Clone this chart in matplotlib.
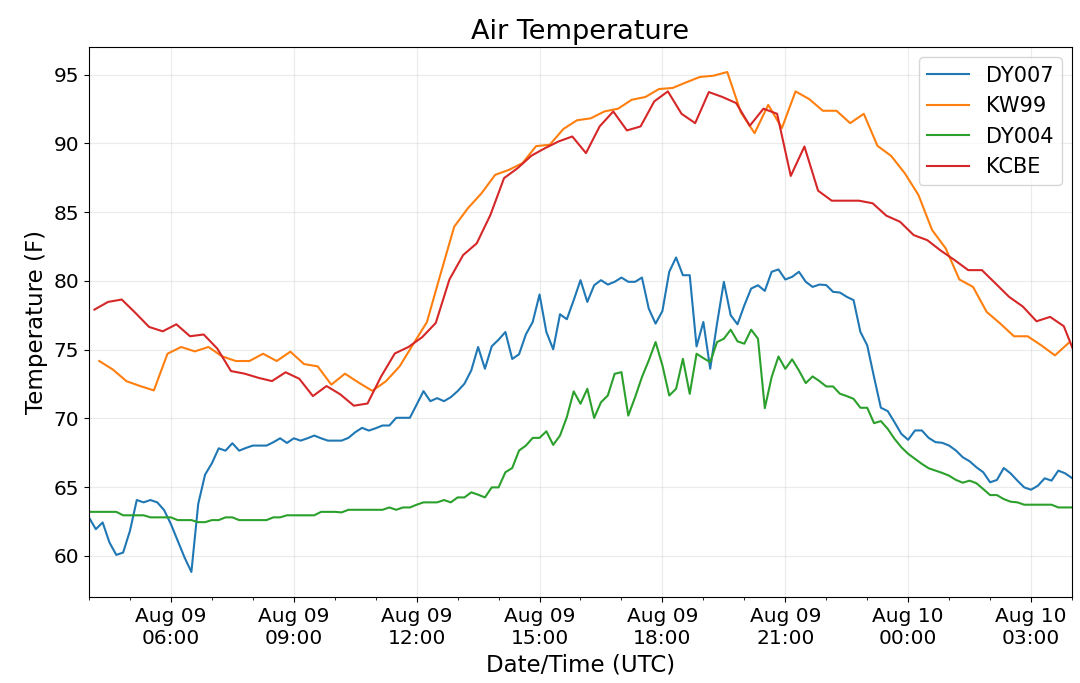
import pandas as pd
import matplotlib
matplotlib.use("Agg")
import matplotlib.pyplot as plt
import matplotlib.dates as mdates

# ===== data =====
# DY stations: 10 min obs, airports: 20 min obs
dy_times = pd.date_range("2019-08-09 04:00", "2019-08-10 04:00", freq="10min")
kw99_times = pd.date_range("2019-08-09 04:15", periods=72, freq="20min")
kcbe_times = pd.date_range("2019-08-09 04:08", periods=73, freq="20min")

dy007 = [
    62.79, 61.94, 62.43, 60.97, 60.07, 60.24, 61.82, 64.06, 63.89, 64.06,
    63.89, 63.33, 62.31, 61.09, 59.88, 58.83, 63.77, 65.90, 66.73, 67.82,
    67.65, 68.19, 67.65, 67.85, 68.02, 68.02, 68.02, 68.26, 68.55, 68.21,
    68.55, 68.38, 68.55, 68.75, 68.55, 68.38, 68.38,
    68.38, 68.58, 68.99, 69.31, 69.11, 69.28, 69.48, 69.48, 70.04, 70.04,
    70.04, 71.00, 71.98, 71.25, 71.47, 71.25, 71.54, 71.98, 72.52, 73.49,
    75.19, 73.61, 75.24, 75.72, 76.28, 74.32, 74.66, 76.11, 77.01, 79.01,
    76.28, 75.02, 77.57, 77.21, 78.59, 80.05,
    78.47, 79.68, 80.05, 79.73, 79.93, 80.24, 79.93, 79.93, 80.24, 77.98,
    76.89, 77.81, 80.66, 81.70, 80.41, 80.41, 75.23, 77.01, 73.61, 76.89,
    79.93, 77.50, 76.84, 78.22, 79.44, 79.68, 79.27, 80.66, 80.83, 80.10,
    80.29, 80.66, 79.93, 79.56, 79.73,
    79.69, 79.20, 79.15, 78.84, 78.60, 76.29, 75.31, 73.00, 70.77, 70.53,
    69.72, 68.87, 68.44, 69.12, 69.12, 68.58, 68.27, 68.22, 68.02, 67.66,
    67.17, 66.88, 66.44, 66.08, 65.35, 65.52, 66.39, 66.00, 65.47, 64.98,
    64.81, 65.10, 65.64, 65.47, 66.20, 66.00, 65.66,
]

dy004 = [
    63.2, 63.2, 63.2, 63.2, 63.2, 62.95, 62.95, 62.95, 62.95, 62.8,
    62.8, 62.8, 62.8, 62.6, 62.6, 62.6, 62.45, 62.45, 62.6, 62.6,
    62.8, 62.8, 62.6, 62.6, 62.6, 62.6, 62.6, 62.8, 62.8, 62.95,
    62.95, 62.95, 62.95, 62.95, 63.2, 63.2, 63.2,
    63.16, 63.35, 63.35, 63.35, 63.35, 63.35, 63.35, 63.52, 63.35, 63.52,
    63.52, 63.72, 63.89, 63.89, 63.89, 64.06, 63.89, 64.25, 64.25, 64.62,
    64.45, 64.25, 64.98, 64.98, 66.08, 66.39, 67.66, 68.02, 68.58, 68.58,
    69.06, 68.07, 68.75, 70.09, 71.96, 71.06,
    72.15, 70.03, 71.17, 71.66, 73.24, 73.36, 70.20, 71.54, 73.00, 74.21,
    75.55, 73.85, 71.66, 72.15, 74.33, 71.78, 74.70, 74.38, 74.09, 75.55,
    75.79, 76.45, 75.60, 75.43, 76.45, 75.79, 70.74, 73.00, 74.50, 73.60,
    74.29, 73.48, 72.56, 73.05, 72.71,
    72.32, 72.32, 71.79, 71.62, 71.42, 70.77, 70.77, 69.65, 69.80, 69.24,
    68.51, 67.90, 67.42, 67.05, 66.69, 66.37, 66.20, 66.03, 65.83, 65.52,
    65.32, 65.47, 65.28, 64.86, 64.42, 64.42, 64.13, 63.94, 63.89, 63.72,
    63.72, 63.72, 63.72, 63.72, 63.52, 63.52, 63.52,
]

kw99 = [
    74.17, 73.55, 72.70, 72.35, 72.03, 74.70, 75.19, 74.87, 75.19, 74.51,
    74.17, 74.17, 74.70, 74.17, 74.85, 73.95, 73.78, 72.45, 73.25, 72.60,
    72.00, 72.70, 73.78, 75.40, 77.00, 80.50, 83.94, 85.28, 86.37, 87.71,
    88.07, 88.56, 89.80, 89.90, 91.05, 91.68, 91.82, 92.32, 92.52, 93.17,
    93.37, 93.95, 94.03, 94.44, 94.83, 94.92, 95.19, 92.24, 90.74, 92.80,
    91.11, 93.78, 93.22, 92.37, 92.37, 91.47, 92.15, 89.82, 89.09, 87.83,
    86.25, 83.70, 82.36, 80.10, 79.56, 77.74, 76.89, 75.97, 75.97, 75.31,
    74.58, 75.48,
]

kcbe = [
    77.91, 78.47, 78.64, 77.67, 76.65, 76.33, 76.84, 75.97, 76.10, 75.07,
    73.44, 73.25, 72.95, 72.71, 73.35, 72.88, 71.62, 72.35, 71.75, 70.92,
    71.08, 73.05, 74.72, 75.19, 75.90, 76.94, 80.10, 81.87, 82.73, 84.79,
    87.47, 88.20, 89.10, 89.65, 90.14, 90.50, 89.29, 91.23, 92.32, 90.94,
    91.23, 93.05, 93.78, 92.15, 91.47, 93.73, 93.37, 92.93, 91.28, 92.52,
    92.15, 87.63, 89.77, 86.56, 85.83, 85.83, 85.83, 85.64, 84.74, 84.30,
    83.33, 82.96, 82.19, 81.51, 80.78, 80.78, 79.81, 78.83, 78.13, 77.06,
    77.38, 76.70, 74.20,
]

# ===== グラフ =====
fig = plt.figure(figsize=(10.8, 6.83), dpi=100)
ax = fig.add_axes([0.0824, 0.126, 0.9102, 0.8052])

ax.plot(dy_times, dy007, color="tab:blue", label="DY007")
ax.plot(kw99_times, kw99, color="tab:orange", label="KW99")
ax.plot(dy_times, dy004, color="tab:green", label="DY004")
ax.plot(kcbe_times, kcbe, color="tab:red", label="KCBE")

ax.set_xlim(dy_times[0], dy_times[-1])
ax.xaxis.set_major_locator(mdates.HourLocator(byhour=range(0, 24, 3)))
ax.xaxis.set_minor_locator(mdates.HourLocator())
ax.xaxis.set_major_formatter(mdates.DateFormatter("%b %d\n%H:%M"))
ax.tick_params(axis="both", which="major", labelsize=14.5)

ax.grid(True, alpha=0.25)
ax.set_xlabel("Date/Time (UTC)", fontsize=16.5)
ax.set_ylabel("Temperature (F)", fontsize=16.5)
ax.set_title("Air Temperature", fontsize=19.5)
ax.legend(loc="upper right", fontsize=15)

fig.savefig("out.png", dpi=100)
